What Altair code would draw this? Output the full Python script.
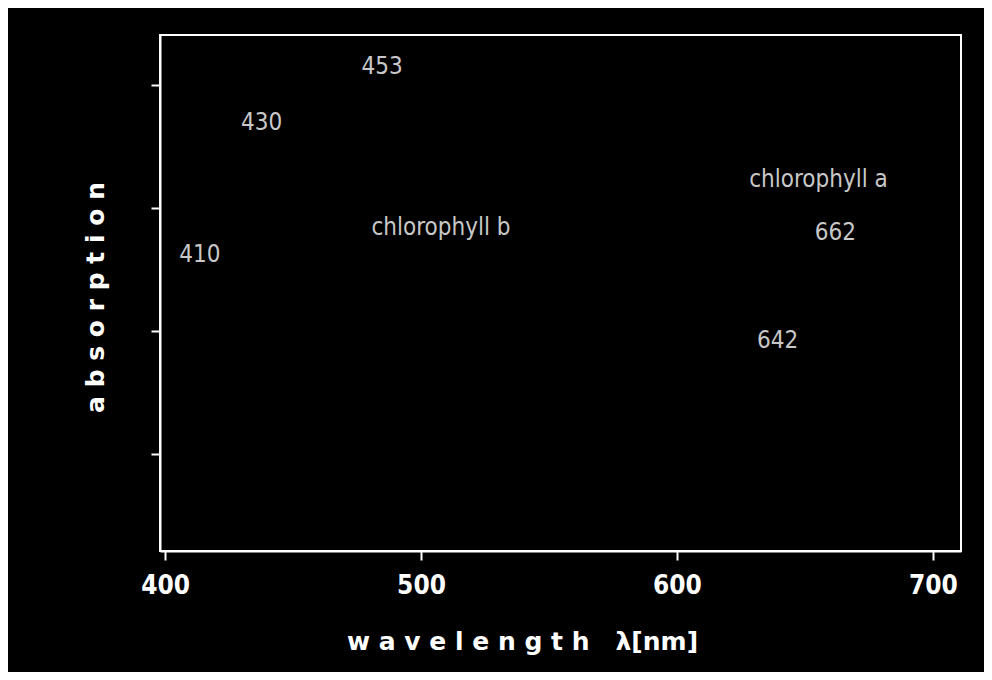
import altair as alt
import pandas as pd

# annotation labels and their positions (wavelength nm, relative absorption)
labels = ["453", "430", "410", "chlorophyll b", "chlorophyll a", "662", "642"]
label_x = [484.8, 437.7, 413.6, 507.8, 655.3, 661.9, 639.3]
label_y = [4.15, 3.69, 2.62, 2.84, 3.23, 2.80, 1.92]

x_ticks = [400, 500, 600, 700]
y_ticks = [1, 2, 3, 4]
x_domain = [398, 711]
y_domain = [0.21, 4.41]

df = pd.DataFrame({"label": labels, "wl": label_x, "abs": label_y})

FONT = "DejaVu Sans Condensed, Liberation Sans Narrow, sans-serif"
NB = "\u00a0"
x_title = NB.join("wavelength") + NB * 3 + "λ[nm]"
y_title = NB.join("absorption")

text = alt.Chart(df).mark_text(
    font=FONT, fontSize=24, color="#c8c8c8", align="center", baseline="middle"
).encode(
    x=alt.X("wl:Q",
            scale=alt.Scale(domain=x_domain, nice=False, zero=False),
            axis=alt.Axis(values=x_ticks, title=x_title,
                          grid=False, domainColor="white", domainWidth=2,
                          tickColor="white", tickWidth=2, tickSize=9,
                          labelColor="white", labelFont=FONT, labelFontSize=26,
                          labelFontWeight="bold",
                          labelPadding=12, labelFlush=False,
                          titleColor="white", titleFont="DejaVu Sans", titleFontSize=25,
                          titleFontWeight="bold", titleX=362, titleY=98,
                          titleAlign="center", titleBaseline="alphabetic")),
    y=alt.Y("abs:Q",
            scale=alt.Scale(domain=y_domain, nice=False, zero=False),
            axis=alt.Axis(values=y_ticks, labels=False, title=y_title,
                          grid=False, domainColor="white", domainWidth=2,
                          tickColor="white", tickWidth=2, tickSize=9,
                          titleColor="white", titleFont="DejaVu Sans", titleFontSize=25,
                          titleFontWeight="bold", titleAngle=270, titleX=-65, titleY=262,
                          titleAlign="center", titleBaseline="middle")),
    text="label:N",
)

chart = text.properties(
    width=801, height=516,
    background="black",
    autosize=alt.AutoSizeParams(type="none"),
    padding={"left": 152, "top": 27, "right": 23, "bottom": 121},
).configure_view(stroke="white", strokeWidth=2)

chart.save("out.html", embed_options={"renderer": "svg", "actions": False})
